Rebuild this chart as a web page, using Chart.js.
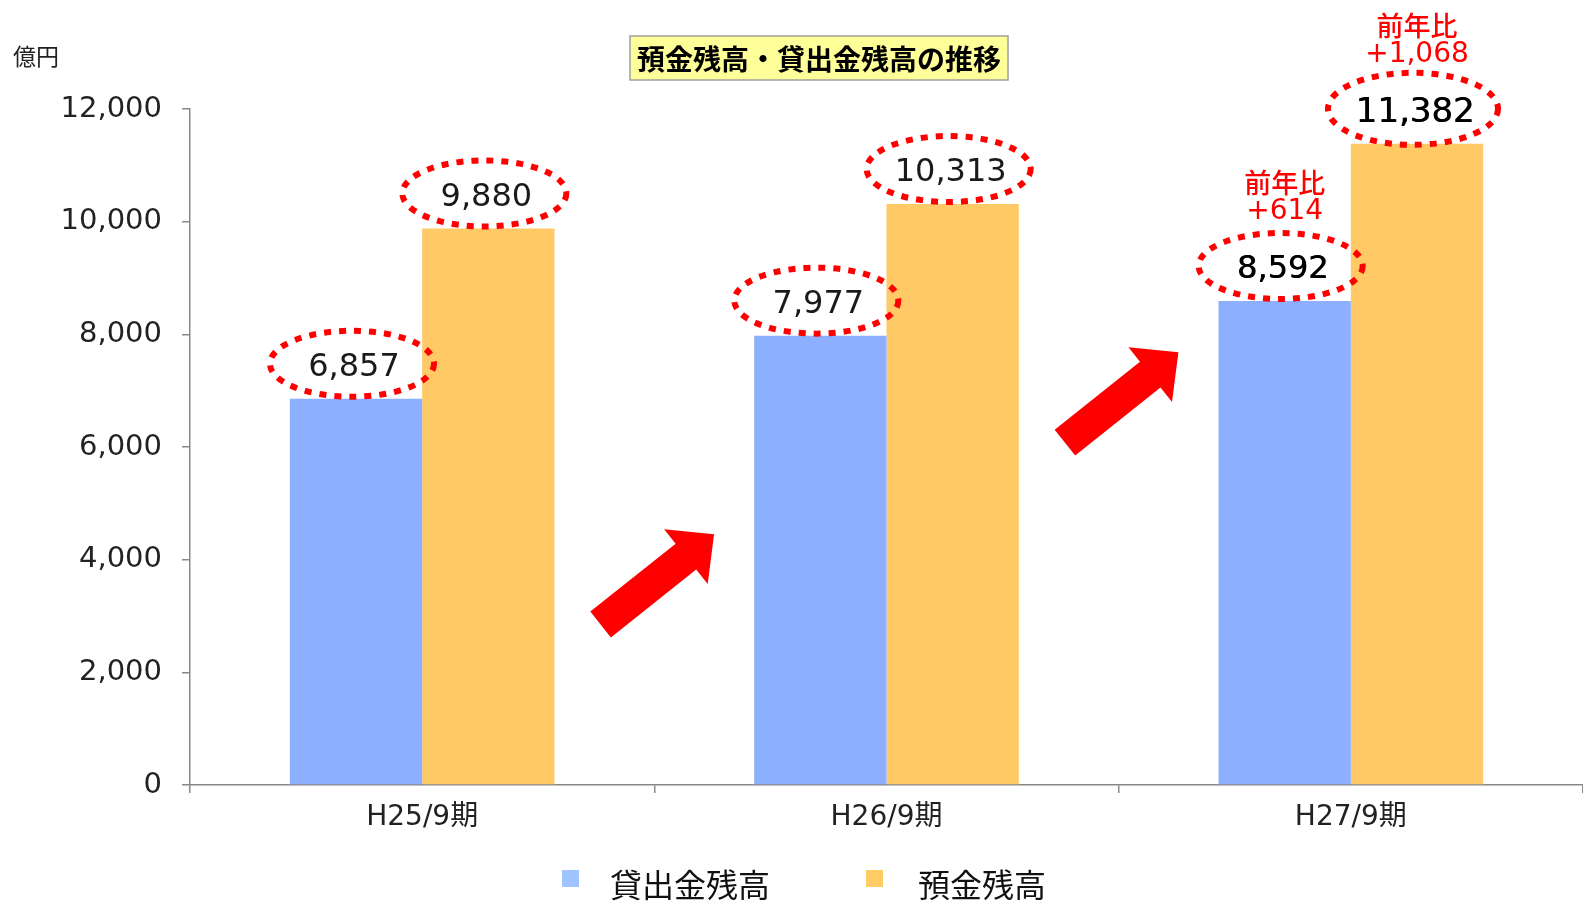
<!DOCTYPE html>
<html>
<head>
<meta charset="utf-8">
<script src="https://cdn.jsdelivr.net/npm/chart.js@4.4.0/dist/chart.umd.min.js"></script>
<style>
  html, body { margin: 0; padding: 0; background: #fff; overflow: hidden; }
  #wrap { width: 1583px; height: 902px; position: relative; }
</style>
</head>
<body>
<div id="wrap"><canvas id="chartCanvas"></canvas></div>
<script>
const categories = ['H25/9期', 'H26/9期', 'H27/9期'];
const loanValues = [6857, 7977, 8592];
const depositValues = [9880, 10313, 11382];
const loanChange = [null, null, 614];
const depositChange = [null, null, 1068];
const seriesNames = ['貸出金残高', '預金残高'];
const chartTitle = '預金残高・貸出金残高の推移';
const unitLabel = '億円';

const FONT = '"DejaVu Sans", "Noto Sans CJK JP", sans-serif';
const JFONT = '"Noto Sans CJK JP", sans-serif';
const BLUE = '#8CAFFF';
const ORANGE = '#FFCA66';

function fmt(v) {
    return v.toLocaleString('en-US');
}

function drawArrow(ctx, cx, cy) {
    const angle = -38.5 * Math.PI / 180;
    const len = 145, shaft = 33, headW = 70, headL = 36;
    ctx.save();
    ctx.translate(cx, cy);
    ctx.rotate(angle);
    ctx.beginPath();
    ctx.moveTo(-len / 2, -shaft / 2);
    ctx.lineTo(len / 2 - headL, -shaft / 2);
    ctx.lineTo(len / 2 - headL, -headW / 2);
    ctx.lineTo(len / 2, 0);
    ctx.lineTo(len / 2 - headL, headW / 2);
    ctx.lineTo(len / 2 - headL, shaft / 2);
    ctx.lineTo(-len / 2, shaft / 2);
    ctx.closePath();
    ctx.fillStyle = '#FF0000';
    ctx.fill();
    ctx.restore();
}

const decorations = {
    id: 'decorations',
    afterDatasetsDraw(chart) {
        const ctx = chart.ctx;
        const x = chart.scales.x;
        const y = chart.scales.y;

        // arrows between periods
        [3650, 6880].forEach((lvl, i) => {
            const cx = (x.getPixelForValue(i) + x.getPixelForValue(i + 1)) / 2 + 3;
            drawArrow(ctx, cx, y.getPixelForValue(lvl));
        });

        // value labels in dotted ellipses
        const changes = [loanChange, depositChange];
        chart.data.datasets.forEach((ds, di) => {
            const meta = chart.getDatasetMeta(di);
            meta.data.forEach((bar, i) => {
                const cx = bar.x - 4;
                const cy = bar.y - 35;
                const big = changes[di][i] !== null && di === 1;
                const latest = changes[di][i] !== null;
                ctx.save();
                ctx.beginPath();
                ctx.ellipse(cx, cy, big ? 85 : 82, big ? 36 : 33, 0, 0, Math.PI * 2);
                ctx.setLineDash([7, 8]);
                ctx.lineWidth = 6;
                ctx.strokeStyle = '#FF0000';
                ctx.stroke();
                ctx.setLineDash([]);
                ctx.fillStyle = latest ? '#000' : '#1a1a1a';
                ctx.font = (big ? '34px ' : '32px ') + FONT;
                ctx.textAlign = 'center';
                ctx.textBaseline = 'middle';
                ctx.fillText(fmt(ds.data[i]), cx + 2, cy + 4);
                if (latest) {
                    ctx.fillText(fmt(ds.data[i]), cx + 2.6, cy + 4);
                }
                const ch = changes[di][i];
                if (ch !== null) {
                    ctx.fillStyle = '#FF0000';
                    ctx.font = '500 27px ' + JFONT;
                    ctx.fillText('前年比', bar.x, bar.y - 118);
                    ctx.font = '28px ' + FONT;
                    ctx.fillText('+' + fmt(ch), bar.x, bar.y - 89);
                }
                ctx.restore();
            });
        });
    },
    afterDraw(chart) {
        const ctx = chart.ctx;
        ctx.save();
        // title box
        ctx.fillStyle = '#FFFF99';
        ctx.fillRect(630, 36, 378, 44);
        ctx.strokeStyle = '#A0A0A0';
        ctx.lineWidth = 1.5;
        ctx.strokeRect(630, 36, 378, 44);
        ctx.fillStyle = '#000';
        ctx.font = 'bold 28px ' + JFONT;
        ctx.textAlign = 'center';
        ctx.textBaseline = 'middle';
        ctx.fillText(chartTitle, 819, 59);

        // unit label
        ctx.font = '23px ' + JFONT;
        ctx.textAlign = 'left';
        ctx.fillStyle = '#222';
        ctx.fillText(unitLabel, 13, 56);

        // legend
        const items = [[562, 610, '#A0C4FF'], [866, 918, '#FFCC66']];
        ctx.font = '32px ' + JFONT;
        items.forEach((it, i) => {
            ctx.fillStyle = it[2];
            ctx.fillRect(it[0], 870, 17, 17);
            ctx.fillStyle = '#111';
            ctx.fillText(chart.data.datasets[i].label, it[1], 885);
        });
        ctx.restore();
    }
};

new Chart(document.getElementById('chartCanvas'), {
    type: 'bar',
    data: {
        labels: categories,
        datasets: [
            { label: seriesNames[0], data: loanValues, backgroundColor: BLUE },
            { label: seriesNames[1], data: depositValues, backgroundColor: ORANGE }
        ]
    },
    options: {
        responsive: true,
        maintainAspectRatio: false,
        animation: false,
        layout: { padding: { top: 109, right: 0, left: 0, bottom: 0 } },
        datasets: { bar: { categoryPercentage: 0.57, barPercentage: 1.0 } },
        plugins: {
            legend: { display: false },
            tooltip: { enabled: false }
        },
        scales: {
            x: {
                grid: { display: true, offset: true, drawOnChartArea: false, tickLength: 8, color: '#888', lineWidth: 1.5 },
                border: { display: true, color: '#888', width: 1.5 },
                ticks: { font: { family: FONT, size: 28 }, color: '#222', padding: 8 },
                afterFit(s) { s.height = 117; }
            },
            y: {
                min: 0,
                max: 12000,
                ticks: {
                    stepSize: 2000,
                    font: { family: FONT, size: 29 },
                    color: '#222',
                    padding: 20,
                    callback: (v) => fmt(v)
                },
                grid: { display: true, drawOnChartArea: false, tickLength: 8, color: '#888', lineWidth: 1.5 },
                border: { display: true, color: '#888', width: 1.5 },
                afterFit(s) { s.width = 190; }
            }
        }
    },
    plugins: [decorations]
});
</script>
</body>
</html>
